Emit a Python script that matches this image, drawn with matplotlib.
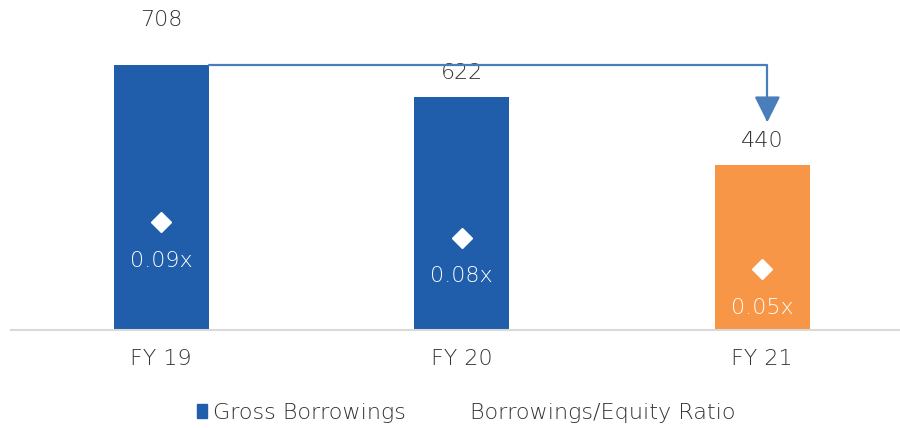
import matplotlib
matplotlib.use("Agg")
import matplotlib.pyplot as plt
from matplotlib.lines import Line2D
from matplotlib.patches import Patch

# data
years = ["FY 19", "FY 20", "FY 21"]
gross = [708, 622, 440]
ratio = [0.090, 0.077, 0.051]

blue = "#205DAB"
orange = "#F79646"
arrow_c = "#4A7EBB"
txt = "#333333"

plt.rcParams["font.family"] = ["DejaVu Sans"]
plt.rcParams["font.weight"] = "light"

fig = plt.figure(figsize=(9, 4.28), dpi=100)
ax = fig.add_axes([11 / 900, 98 / 428, 889 / 900, 300 / 428])
ax2 = ax.twinx()

x = list(range(len(years)))
bw = 0.316
colors = [blue, blue, orange]
ax.bar(x, gross, width=bw, color=colors, zorder=2)

# value labels above bars
for i, v in enumerate(gross):
    off = 32 if i == 0 else 17
    ax.annotate(f"{v}", (x[i], v), xytext=(0, off), textcoords="offset points",
                ha="center", va="center", fontsize=16, color=txt)

# arrow from FY19 top to FY21 label
ax.annotate("", xy=(x[2] + 0.017, gross[2] + 114), xytext=(x[0] + bw / 2, gross[0]),
            arrowprops=dict(arrowstyle="-|>,head_length=0.8,head_width=0.4",
                            connectionstyle="angle,angleA=0,angleB=90,rad=0",
                            color=arrow_c, lw=1.6, mutation_scale=20,
                            shrinkA=0, shrinkB=0), zorder=3)

ax.set_xlim(-0.5, -0.5 + 889 / 300.5)
ax.set_ylim(0, 800)
ax.set_yticks([])
ax.set_xticks(x)
ax.set_xticklabels(years, fontsize=16, color=txt)
ax.tick_params(axis="x", length=0, pad=14)
for s in ["top", "right", "left"]:
    ax.spines[s].set_visible(False)
ax.spines["bottom"].set_color("#D9D9D9")
ax.spines["bottom"].set_linewidth(1.5)

# ratio on secondary axis
ax2.plot(x, ratio, linestyle="none", marker="D", markersize=10, color="white", zorder=4)
for i, r in enumerate(ratio):
    ax2.annotate(f"{r:.2f}x", (x[i], r), xytext=(0, -28), textcoords="offset points",
                 ha="center", va="center", fontsize=16, color="white")
ax2.set_ylim(0, 0.25)
ax2.set_yticks([])
for s in ax2.spines.values():
    s.set_visible(False)

handles = [Patch(color=blue),
           Line2D([], [], linestyle="none", marker="D", color="white", markersize=8)]
fig.legend(handles, ["Gross Borrowings", "Borrowings/Equity Ratio"],
           loc="center", bbox_to_anchor=(0.518, 1 - 413 / 428), ncol=2, frameon=False,
           fontsize=16, labelcolor=txt, handlelength=0.45, handleheight=0.55,
           handletextpad=0.25, columnspacing=2.2)

fig.savefig("out.png", dpi=100)
